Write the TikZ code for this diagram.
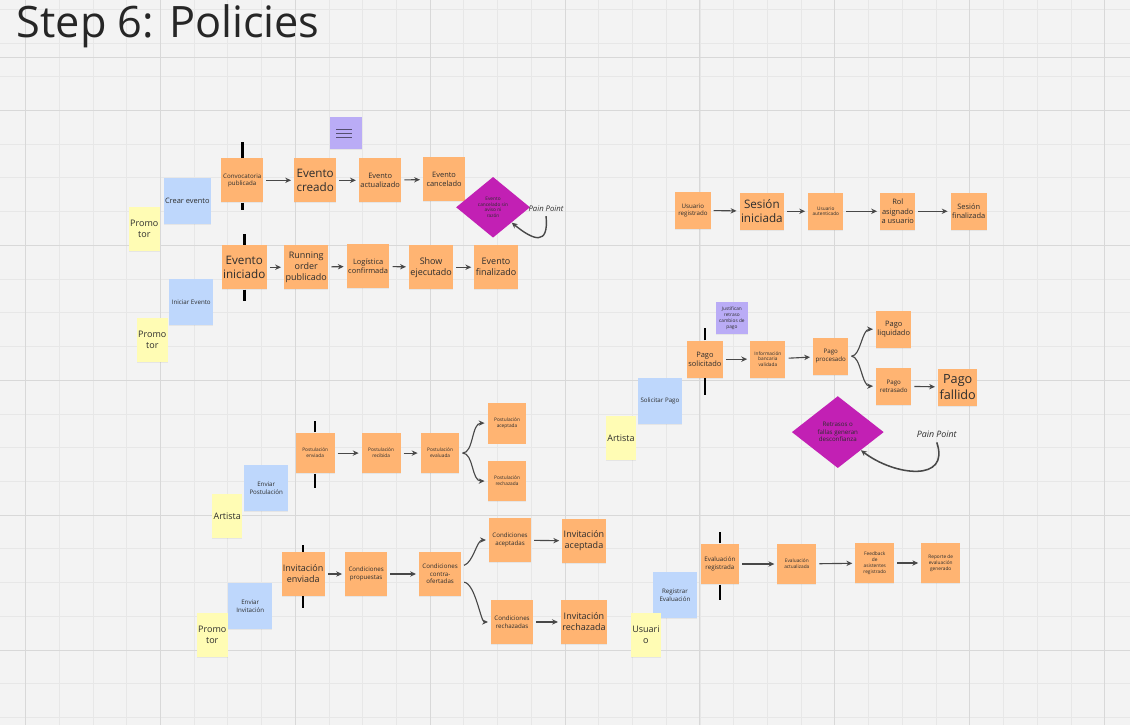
\documentclass[tikz,border=0pt]{standalone}
\usepackage{fontspec}
\setmainfont{Open Sans}
\usetikzlibrary{arrows.meta,shapes.geometric,shadows}
\definecolor{evorange}{RGB}{255,180,114}
\definecolor{cmdblue}{RGB}{190,215,252}
\definecolor{actyellow}{RGB}{255,252,180}
\definecolor{memocol}{RGB}{186,172,246}
\definecolor{painmag}{RGB}{194,32,180}
\definecolor{board}{RGB}{243,243,243}
\definecolor{gridminor}{RGB}{231,231,231}
\definecolor{gridmajor}{RGB}{216,216,216}
\definecolor{flow}{RGB}{72,72,72}
\definecolor{ink}{RGB}{45,45,45}
\begin{document}
\begin{tikzpicture}[x=0.025cm,y=-0.025cm,>={Stealth[length=4.2pt,width=3.8pt]},
 note/.style={align=center,inner sep=1pt,text=ink,drop shadow={opacity=.12,shadow xshift=0pt,shadow yshift=-.7pt}},
 ev/.style={note,fill=evorange,minimum width=1.05cm,minimum height=1.1cm},
 evm/.style={ev,minimum width=.97cm,minimum height=1.02cm},
 evs/.style={ev,minimum width=.88cm,minimum height=.92cm},
 cmd/.style={note,fill=cmdblue,minimum width=1.1cm,minimum height=1.15cm},
 act/.style={note,fill=actyellow,minimum width=.7cm,minimum height=1.1cm},
 memo/.style={note,fill=memocol,minimum width=.8cm,minimum height=.8cm},
 pain/.style={diamond,fill=painmag,align=center,inner sep=0pt,text=ink},
 pp/.style={font=\itshape\fontsize{5.5}{6.5}\selectfont,text=ink},
 tx3/.style={font=\fontsize{3.4}{4.2}\selectfont},
 tx4/.style={font=\fontsize{4.4}{5.4}\selectfont},
 tx5/.style={font=\fontsize{5.3}{6.5}\selectfont},
 tx6/.style={font=\fontsize{6.4}{7.8}\selectfont},
 tx8/.style={font=\fontsize{8.3}{10.2}\selectfont},
 bar/.style={line width=1.8pt,black},
 flw/.style={->,draw=flow,line width=.8pt,shorten >=2pt,shorten <=2pt}]
\fill[board] (0,0) rectangle (1130,725);
\foreach \gx in {25,58.75,...,1130} \draw[gridminor,line width=.5pt] (\gx,0) -- (\gx,725);
\foreach \gy in {8.75,42.5,...,725} \draw[gridminor,line width=.5pt] (0,\gy) -- (1130,\gy);
\foreach \gx in {25,160,...,1130} \draw[gridmajor,line width=.6pt] (\gx,0) -- (\gx,725);
\foreach \gy in {110,245,...,725} \draw[gridmajor,line width=.6pt] (0,\gy) -- (1130,\gy);
\draw[gridmajor,line width=.6pt] (0,57) -- (1130,57);
\node[anchor=base west,font=\fontsize{30.8}{36}\selectfont,text=black!85,inner sep=0pt] (title) at (16,37) {Step 6: Policies};

\node[ev,tx4] (conv) at (242,180) {Convocatoria\\publicada};
\node[ev,tx8] (creado) at (315,180) {Evento\\creado};
\node[memo] (memo1) at (346,133) {};
\node[ev,tx5] (actual) at (380,180) {Evento\\actualizado};
\node[ev,tx5] (cancel) at (444,179) {Evento\\cancelado};
\node[pain,tx3,minimum width=1.85cm,minimum height=1.52cm] (dia1) at (493,207) {Evento\\cancelado sin\\aviso ni\\razón};
\node[pp] (pp1) at (546,208) {Pain Point};
\node[cmd,tx5] (crear) at (187,201) {Crear evento};
\node[act,tx6] (prom1) at (144,229) {Promo\\tor};
\draw[bar] (conv.north) -- ++(0,-16);
\draw[bar] (conv.south) -- ++(0,7);
\foreach \ly in {-6,0,6} \draw[memocol!45!black,line width=.8pt] ([xshift=-7pt,yshift=\ly*-0.5pt]memo1.center) -- ++(16,0);
\draw[flw] (conv) -- (creado);
\draw[flw] (creado) -- (actual);
\draw[flw] (actual) -- (cancel);
\draw[->,draw=flow,line width=1pt] (pp1.south) .. controls +(3,30) and +(22,18) .. (dia1.south east);

\node[ev,tx8] (inic) at (244,267) {Evento\\iniciado};
\node[ev,tx6] (running) at (306,267) {Running\\order\\publicado};
\node[ev,tx5] (logist) at (368,266) {Logística\\confirmada};
\node[ev,tx6] (show) at (431,267) {Show\\ejecutado};
\node[ev,tx6] (final) at (496,267) {Evento\\finalizado};
\node[cmd,tx4] (iniciar) at (191,302) {Iniciar Evento};
\node[act,tx6] (prom2) at (152,340) {Promo\\tor};
\draw[bar] (inic.north) -- ++(0,-11);
\draw[bar] (inic.south) -- ++(0,12);
\draw[flw] (inic) -- (running);
\draw[flw] (running) -- (logist);
\draw[flw] (logist) -- (show);
\draw[flw] (show) -- (final);

\node[evs,tx4] (ureg) at (693,210) {Usuario\\registrado};
\node[evs,tx8] (sini) at (762,211) {Sesión\\iniciada};
\node[evs,tx3] (uaut) at (826,211) {Usuario\\autenticado};
\node[evs,tx5] (rol) at (898,211) {Rol\\asignado\\a usuario};
\node[evs,tx5] (sfin) at (969,211) {Sesión\\finalizada};
\draw[flw] (ureg) -- (sini);
\draw[flw] (sini) -- (uaut);
\draw[flw] (uaut) -- (rol);
\draw[flw] (rol) -- (sfin);

\node[memo,tx3] (memo2) at (732,318) {Justifican\\retraso\\cambios de\\pago};
\node[evs,tx5] (psol) at (705,359) {Pago\\solicitado};
\node[evs,tx3] (pinfo) at (768,359) {Información\\bancaria\\validada};
\node[evs,tx4] (pproc) at (831,356) {Pago\\procesado};
\node[evs,tx5] (pliq) at (894,329) {Pago\\liquidado};
\node[evs,tx4] (pret) at (894,386) {Pago\\retrasado};
\node[evs,tx8,font=\fontsize{9}{11}\selectfont] (pfall) at (958,387) {Pago\\fallido};
\node[cmd,tx4] (solic) at (660,401) {Solicitar Pago};
\node[act,tx6] (art1) at (621,438) {Artista};
\node[pain,tx4,minimum width=2.3cm,minimum height=1.8cm] (dia2) at (838,432) {Retrasos o\\fallas generan\\desconfianza};
\node[pp,font=\itshape\fontsize{6.3}{7.5}\selectfont] (pp2) at (937,434) {Pain Point};
\draw[bar] (psol.north) -- ++(0,-13);
\draw[bar] (psol.south) -- ++(0,17);
\draw[flw] (psol) -- (pinfo);
\draw[flw] (pinfo) -- (pproc);
\draw[flw] (pproc.east) .. controls +(12,0) and +(-14,0) .. (pliq.west);
\draw[flw] (pproc.east) .. controls +(12,0) and +(-14,0) .. (pret.west);
\draw[flw] (pret) -- (pfall);
\draw[->,draw=flow,line width=1.1pt] (pp2.south) .. controls +(14,40) and +(34,26) .. (dia2.south east);

\node[evm,tx3] (penv) at (315,453) {Postulación\\enviada};
\node[evm,tx3] (prec) at (381,453) {Postulación\\recibida};
\node[evm,tx3] (peva) at (440,453) {Postulación\\evaluada};
\node[evm,tx3] (pacep) at (507,423) {Postulación\\aceptada};
\node[evm,tx3] (prech) at (507,481) {Postulación\\rechazada};
\node[cmd,tx4] (envp) at (266,488) {Enviar\\Postulación};
\node[act,tx6] (art2) at (227,516) {Artista};
\draw[bar] (penv.north) -- ++(0,-11);
\draw[bar] (penv.south) -- ++(0,14);
\draw[flw] (penv) -- (prec);
\draw[flw] (prec) -- (peva);
\draw[flw] (peva.east) .. controls +(14,0) and +(-16,0) .. (pacep.west);
\draw[flw] (peva.east) .. controls +(14,0) and +(-16,0) .. (prech.west);

\node[ev,tx6] (ienv) at (303,574) {Invitación\\enviada};
\node[ev,tx4] (cprop) at (366,574) {Condiciones\\propuestas};
\node[ev,tx4] (ccont) at (440,574) {Condiciones\\contra-\\ofertadas};
\node[ev,tx4] (cacep) at (510,540) {Condiciones\\aceptadas};
\node[ev,tx6] (iacep) at (584,541) {Invitación\\aceptada};
\node[ev,tx4] (crech) at (512,622) {Condiciones\\rechazadas};
\node[ev,tx6] (irech) at (584,622) {Invitación\\rechazada};
\node[cmd,tx4] (envi) at (250,606) {Enviar\\Invitación};
\node[act,tx6] (prom3) at (212,635) {Promo\\tor};
\draw[bar] (ienv.north) -- ++(0,-7);
\draw[bar] (ienv.south) -- ++(0,12);
\draw[flw] (ienv) -- (cprop);
\draw[flw] (cprop) -- (ccont);
\draw[flw] (ccont.20) .. controls +(12,-4) and +(-12,0) .. (cacep.west);
\draw[flw] (ccont.-20) .. controls +(14,2) and +(-10,0) .. (crech.west);
\draw[flw] (cacep) -- (iacep);
\draw[flw] (crech) -- (irech);

\node[evm,tx4] (ereg) at (720,564) {Evaluación\\registrada};
\node[evm,tx3] (eact) at (797,564) {Evaluación\\actualizada};
\node[evm,tx3] (feed) at (875,563) {Feedback\\de\\asistentes\\registrado};
\node[evm,tx3] (rep) at (941,563) {Reporte de\\evaluación\\generado};
\node[cmd,tx4] (regev) at (675,595) {Registrar\\Evaluación};
\node[act,tx6] (usu) at (646,635) {Usuari\\o};
\draw[bar] (ereg.north) -- ++(0,-11);
\draw[bar] (ereg.south) -- ++(0,15);
\draw[flw] (ereg) -- (eact);
\draw[flw] (eact) -- (feed);
\draw[flw] (feed) -- (rep);
\end{tikzpicture}
\end{document}
